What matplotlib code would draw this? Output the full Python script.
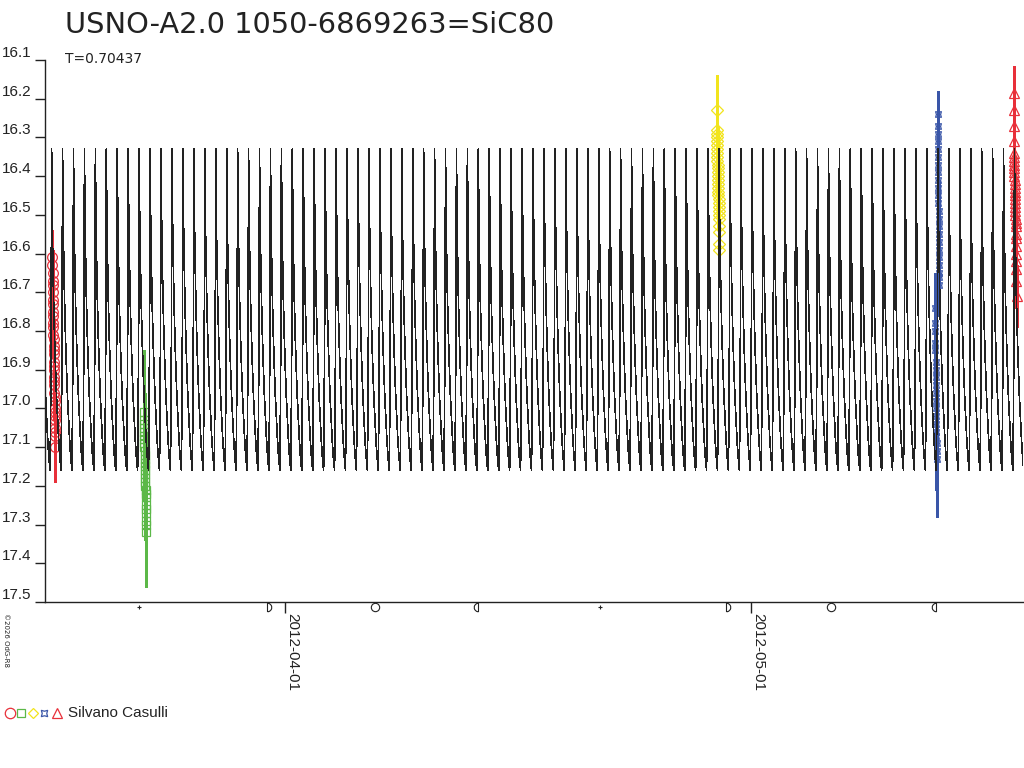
#%%
import numpy as np
import pandas as pd
import matplotlib.pyplot as plt
import matplotlib.dates as mdates
from matplotlib.path import Path

plt.rcParams["font.family"] = ["Liberation Sans", "DejaVu Sans"]

#%%
# light curve template (one cycle, max at phase 0)
period = 0.70437
epoch_max = "2012-04-26 19:55"
tpl_phase = [0.00, 0.045, 0.09, 0.18, 0.27, 0.36, 0.45, 0.55, 0.64, 0.73, 0.82, 0.86, 0.91, 0.955, 1.00]
tpl_mag = [16.33, 16.49, 16.58, 16.72, 16.82, 16.90, 16.97, 17.03, 17.08, 17.12, 17.15, 17.16, 17.00, 16.78,
           16.33]

# observations: night centre, hour offsets, magnitudes, errors
obs1_night = "2012-03-17 03:00"
obs1_dh = [-2.4, -2.3, -2.1, -2.0, -1.8, -1.7, -1.5, -1.4, -1.3, -1.1, -1.0, -0.8, -0.7, -0.5, -0.4, -0.3, -0.1,
           0.0, 0.1, 0.3, 0.4, 0.5, 0.7, 0.8, 1.0, 1.1, 1.3, 1.4, 1.5, 1.7, 1.8, 2.0, 2.1, 2.4]
obs1_mag = [16.61, 16.63, 16.65, 16.67, 16.68, 16.70, 16.72, 16.73, 16.75, 16.76, 16.78, 16.79, 16.81, 16.82,
            16.84, 16.85, 16.86, 16.88, 16.89, 16.90, 16.92, 16.93, 16.94, 16.96, 16.97, 16.98, 17.00, 17.01,
            17.02, 17.03, 17.05, 17.06, 17.07, 17.10]
obs1_err = [0.07, 0.06, 0.06, 0.05, 0.06, 0.05, 0.06, 0.05, 0.06, 0.06, 0.05, 0.06, 0.06, 0.05, 0.06, 0.06, 0.07,
            0.06, 0.07, 0.06, 0.07, 0.07, 0.06, 0.07, 0.07, 0.08, 0.07, 0.08, 0.08, 0.07, 0.08, 0.08, 0.09, 0.09]

obs2_night = "2012-03-22 23:45"
obs2_dh = [-2.2, -2.0, -1.9, -1.7, -1.5, -1.4, -1.2, -1.1, -0.9, -0.7, -0.6, -0.4, -0.3, -0.1,
           0.1, 0.2, 0.4, 0.5, 0.7, 0.9, 1.0, 1.2, 1.3, 1.5, 1.7, 1.8, 2.0, 2.2]
obs2_mag = [17.01, 17.03, 17.04, 17.05, 17.06, 17.07, 17.08, 17.09, 17.10, 17.11, 17.12, 17.13, 17.14, 17.15,
            17.16, 17.17, 17.18, 17.19, 17.20, 17.21, 17.22, 17.23, 17.25, 17.26, 17.27, 17.29, 17.30, 17.32]
obs2_err = [0.16, 0.15, 0.14, 0.15, 0.14, 0.14, 0.15, 0.14, 0.14, 0.15, 0.14, 0.15, 0.14, 0.15,
            0.14, 0.15, 0.14, 0.15, 0.14, 0.15, 0.14, 0.15, 0.14, 0.15, 0.14, 0.15, 0.14, 0.14]

obs3_night = "2012-04-28 21:00"
obs3_dh = [-2.2, -2.0, -1.9, -1.7, -1.6, -1.4, -1.3, -1.1, -1.0, -0.8, -0.6, -0.5, -0.3, -0.2, 0.0,
           0.2, 0.3, 0.5, 0.6, 0.8, 0.9, 1.1, 1.2, 1.4, 1.6, 1.7, 1.9, 2.0, 2.2]
obs3_mag = [16.23, 16.28, 16.29, 16.30, 16.31, 16.32, 16.33, 16.34, 16.35, 16.36, 16.37, 16.38, 16.39, 16.40,
            16.41, 16.42, 16.43, 16.44, 16.45, 16.46, 16.47, 16.48, 16.49, 16.50, 16.51, 16.53, 16.545, 16.575,
            16.59]
obs3_err = [0.09, 0.10, 0.09, 0.09, 0.10, 0.09, 0.09, 0.10, 0.09, 0.09, 0.10, 0.09, 0.09, 0.10, 0.09,
            0.09, 0.10, 0.09, 0.09, 0.10, 0.09, 0.09, 0.10, 0.09, 0.09, 0.08, 0.09, 0.08, 0.08]

obs4_night = "2012-05-12 23:30"
obs4_dh = [1.0, 1.1, 1.2, 1.3, 1.4, 1.5, 1.6, 1.7, 1.8, 1.9, 2.0, 2.1, 2.2, 2.3, 2.4, 2.5, 2.6, 2.7, 2.8,
           2.9, 3.0, 3.1, 3.2,
           -3.2, -3.0, -2.9, -2.7, -2.6, -2.4, -2.3, -2.1, -2.0, -1.8, -1.7, -1.5, -1.4, -1.2, -1.1, -0.9,
           -0.8, -0.6, -0.5]
obs4_mag = [16.24, 16.27, 16.29, 16.31, 16.33, 16.35, 16.37, 16.39, 16.41, 16.43, 16.45, 16.47, 16.49, 16.51,
            16.53, 16.55, 16.57, 16.59, 16.61, 16.63, 16.65, 16.66, 16.68,
            16.74, 16.78, 16.80, 16.83, 16.85, 16.88, 16.90, 16.92, 16.94, 16.96, 16.98, 17.00, 17.02, 17.04,
            17.06, 17.07, 17.09, 17.11, 17.13]
obs4_err = [0.06, 0.06, 0.07, 0.06, 0.07, 0.07, 0.06, 0.07, 0.07, 0.08, 0.07, 0.08, 0.08, 0.08, 0.08, 0.09,
            0.08, 0.09, 0.09, 0.08, 0.09, 0.09, 0.08,
            0.09, 0.10, 0.10, 0.11, 0.10, 0.11, 0.12, 0.11, 0.12, 0.12, 0.13, 0.12, 0.13, 0.13, 0.14, 0.14,
            0.14, 0.15, 0.15]

obs5_night = "2012-05-18 00:00"
obs5_dh = [-2.4, -2.3, -2.1, -2.0, -1.8, -1.7, -1.5, -1.4, -1.2, -1.1, -0.9, -0.8, -0.6, -0.5, -0.3, -0.2,
           0.0, 0.1, 0.3, 0.4, 0.6, 0.7, 0.9, 1.0, 1.2, 1.3, 1.5, 1.6, 1.8, 1.9, 2.1, 2.4]
obs5_mag = [16.185, 16.23, 16.27, 16.31, 16.34, 16.35, 16.36, 16.37, 16.38, 16.39, 16.40, 16.41, 16.42, 16.43,
            16.44, 16.45, 16.46, 16.47, 16.48, 16.49, 16.50, 16.51, 16.52, 16.53, 16.55, 16.56, 16.58, 16.60,
            16.62, 16.64, 16.67, 16.71]
obs5_err = [0.07, 0.06, 0.07, 0.06, 0.07, 0.06, 0.07, 0.06, 0.07, 0.06, 0.07, 0.06, 0.07, 0.06, 0.07, 0.06,
            0.07, 0.06, 0.07, 0.06, 0.07, 0.06, 0.07, 0.06, 0.07, 0.06, 0.07, 0.06, 0.07, 0.07, 0.07, 0.08]

moon_dates = ["2012-03-22 14:37", "2012-03-30 19:41", "2012-04-06 19:19", "2012-04-13 10:50",
              "2012-04-21 07:18", "2012-04-29 09:57", "2012-05-06 03:35", "2012-05-12 21:47"]
moon_phase = ["new", "first", "full", "last", "new", "first", "full", "last"]

date_ticks = ["2012-04-01", "2012-05-01"]
mag_ticks = [16.1, 16.2, 16.3, 16.4, 16.5, 16.6, 16.7, 16.8, 16.9, 17.0, 17.1, 17.2, 17.3, 17.4, 17.5]

#%%
def to_num(s):
    return mdates.date2num(pd.to_datetime(s))

x_lo, x_hi = to_num("2012-03-16 13:12"), to_num("2012-05-18 12:15")

# tile the template over the whole range
t0 = to_num(epoch_max)
k_lo = int(np.floor((x_lo - t0) / period)) - 1
k_hi = int(np.ceil((x_hi - t0) / period)) + 1
curve_t, curve_m = [], []
for k in range(k_lo, k_hi):
    curve_t.append(t0 + (k + np.array(tpl_phase[:-1])) * period)
    curve_m.append(np.array(tpl_mag[:-1]))
curve_t = np.concatenate(curve_t)
curve_m = np.concatenate(curve_m)

#%%
fig = plt.figure(figsize=(10.24, 7.68), dpi=100)
ax = fig.add_axes([45 / 1024, 166 / 768, 978 / 1024, 542 / 768])

red = "#e8303a"
green = "#5cb848"
yellow = "#f2e41c"
blue = "#3a56a8"
star4 = (4, 1, 45)
sets = [
    (obs1_night, obs1_dh, obs1_mag, obs1_err, red, "o", 7.0),
    (obs2_night, obs2_dh, obs2_mag, obs2_err, green, "s", 5.5),
    (obs3_night, obs3_dh, obs3_mag, obs3_err, yellow, "D", 6.0),
    (obs4_night, obs4_dh, obs4_mag, obs4_err, blue, star4, 6.0),
    (obs5_night, obs5_dh, obs5_mag, obs5_err, red, "^", 7.0),
]
for night, dh, mag, err, col, mk, ms in sets:
    t = to_num(night) + np.array(dh) / 24.0
    eb = ax.errorbar(t, mag, yerr=err, fmt="none", ecolor=col, elinewidth=1.0, zorder=2)
    for c in eb[2]:
        c.set_antialiased(False)
    ax.plot(t, mag, ls="none", marker=mk, ms=ms, mfc="none", mec=col, mew=0.9, zorder=3)

ax.plot(curve_t, curve_m, color="#222222", lw=0.5, zorder=4, antialiased=False)

# moon phases under the axis
first_q = Path(np.vstack([Path.arc(-90, 90).vertices, [[0, -1]]]))
last_q = Path(np.vstack([Path.arc(90, 270).vertices, [[0, 1]]]))
moon_marker = {"new": ("+", 3.5), "first": (first_q, 6), "full": ("o", 6), "last": (last_q, 6)}
trans = ax.get_xaxis_transform()
for d, ph in zip(moon_dates, moon_phase):
    mk, ms = moon_marker[ph]
    ax.plot(to_num(d), -0.0095, ls="none", marker=mk, ms=ms, mfc="none", mec="#222222",
            mew=0.8, transform=trans, clip_on=False)

ax.set_xlim(x_lo, x_hi)
ax.set_ylim(17.5, 16.1)
ax.set_xticks([to_num(d) for d in date_ticks])
ax.set_xticklabels(date_ticks, rotation=-90, ha="left", va="top", fontsize=11, color="#222222")
ax.set_yticks(mag_ticks)
ax.set_yticklabels(["%.1f" % v for v in mag_ticks], fontsize=11, color="#222222")
for lab in ax.get_yticklabels():
    lab.set_va("bottom")
ax.tick_params(axis="y", direction="out", length=7, width=1, color="#222222", pad=3)
ax.tick_params(axis="x", direction="out", length=8, width=1, color="#222222", pad=0)
for s in ["top", "right"]:
    ax.spines[s].set_visible(False)
for s in ["left", "bottom"]:
    ax.spines[s].set_color("#222222")
    ax.spines[s].set_linewidth(1.0)

fig.text(65 / 1024, 1 - 33 / 768, "USNO-A2.0 1050-6869263=SiC80", fontsize=20.8, color="#222222",
         va="baseline", ha="left", family="DejaVu Sans")
fig.text(65 / 1024, 1 - 63 / 768, "T=0.70437", fontsize=10, color="#222222", va="baseline", ha="left",
         family="DejaVu Sans")
fig.text(3 / 1024, 1 - 613 / 768, "\u00a92026 OdG-R8", fontsize=5, rotation=-90, va="top", ha="left",
         color="#222222", family="DejaVu Sans")

# legend line at the bottom
leg_y = 1 - 713 / 768
leg = [(10, red, "o", 7.5), (21, green, "s", 5.5), (33, yellow, "D", 5.5),
       (44, blue, star4, 6.5), (57, red, "^", 7.5)]
for lx, col, mk, ms in leg:
    fig.lines.append(plt.Line2D([lx / 1024], [leg_y], ls="none", marker=mk, ms=ms, mfc="none", mec=col,
                                mew=0.9, transform=fig.transFigure))
fig.text(68 / 1024, leg_y, "Silvano Casulli", fontsize=11, color="#222222", va="center", ha="left")

fig.savefig("out.png", dpi=100)
